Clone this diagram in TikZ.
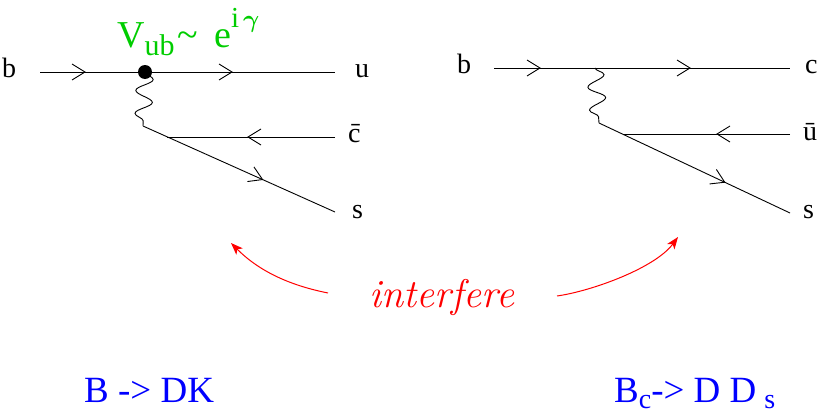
\documentclass[tikz,border=0pt]{standalone}
\usepackage{amsmath}
\usepackage{fontspec}
\newfontfamily\tms{Liberation Serif}
\usetikzlibrary{decorations.pathmorphing,decorations.markings,arrows.meta}
\definecolor{vgreen}{RGB}{0,205,0}
\definecolor{vblue}{RGB}{0,0,255}
\definecolor{vred}{RGB}{255,0,0}
\newcommand\chevron{\draw[line width=0.9pt,line join=miter] (-13pt,8pt) -- (0pt,0pt) -- (-13pt,-8pt);}
\begin{document}
\begin{tikzpicture}[x=1pt,y=-1pt,
  quark/.style={line width=0.9pt},
  chev/.style={postaction={decorate,decoration={markings,mark=at position #1 with {\chevron}}}},
  photon/.style={line width=0.9pt,decorate,decoration={snake,amplitude=8.5pt,segment length=#1}},
  lbl/.style={inner sep=0pt,anchor=base west,font=\tms\fontsize{28}{28}\selectfont},
  big/.style={inner sep=0pt,anchor=base west,text=vblue,font=\tms\fontsize{37}{37}\selectfont},
  redarrow/.style={line width=1pt,draw=vred,-{Stealth[length=12pt,width=9pt,inset=3pt]}}]
\useasboundingbox (0,0) rectangle (829,415);
% ---------- left diagram ----------
\coordinate (aL) at (40,72);
\coordinate (vL) at (145,72);
\coordinate (uL) at (335,72);
\coordinate (wL) at (143,126);
\coordinate (kL) at (167,137);
\coordinate (cL) at (335,137);
\coordinate (sL) at (335,212);
\draw[quark,chev=45pt,chev=192pt] (aL) -- (uL);
\draw[photon=23pt] (vL) -- (wL);
\draw[quark,chev=87pt] (cL) -- (kL);
\draw[quark,chev=131pt] (wL) -- (sL);
\fill (vL) circle (7);
\node[lbl] (bL) at (2,77) {b};
\node[lbl] (uLt) at (355,77) {u};
\node[lbl] (cLt) at (348,142) {\=c};
\node[lbl] (sLt) at (352,218) {s};
\node[inner sep=0pt,anchor=base west,text=vgreen,font=\tms\fontsize{38}{38}\selectfont] (vub) at (117,47)
  {V\raisebox{-8pt}{\fontsize{30}{30}\selectfont ub}\hspace{3pt}\textasciitilde\hspace{16pt}e\raisebox{20pt}{\fontsize{29}{29}\selectfont i\hspace{4pt}$\boldsymbol{\gamma}$}};
% ---------- right diagram ----------
\coordinate (aR) at (494,68);
\coordinate (vR) at (595,68);
\coordinate (cR) at (790,68);
\coordinate (wR) at (599,123);
\coordinate (kR) at (623,134);
\coordinate (uR) at (790,134);
\coordinate (sR) at (790,213);
\draw[quark,chev=46pt,chev=196pt] (aR) -- (cR);
\draw[photon=23pt] (vR) -- (wR);
\draw[quark,chev=73pt] (uR) -- (kR);
\draw[quark,chev=139pt] (wR) -- (sR);
\node[lbl] (bR) at (457,73) {b};
\node[lbl] (cRt) at (805,73) {c};
\node[lbl] (uRt) at (803,140) {\=u};
\node[lbl] (sRt) at (803,218) {s};
% ---------- interfere ----------
\node[inner sep=0pt,anchor=base,text=vred,font=\fontsize{40}{40}\selectfont\itshape] (intf) at (442,307) {interfere};
\coordinate (l0) at (328,293);
\coordinate (l1) at (231,243);
\coordinate (r0) at (557,296);
\coordinate (r1) at (678,237);
\draw[redarrow] (l0) .. controls (293,286) and (261,273) .. (l1);
\draw[redarrow] (r0) .. controls (592,291) and (655,268) .. (r1);
% ---------- decay labels ----------
\node[big] (bdk) at (84,402) {B -> DK};
\node[big] (bcd) at (614,402) {B\raisebox{-6pt}{\fontsize{28}{28}\selectfont c}-> D D\hspace{8pt}\raisebox{-6pt}{\fontsize{28}{28}\selectfont s}};
\end{tikzpicture}
\end{document}
